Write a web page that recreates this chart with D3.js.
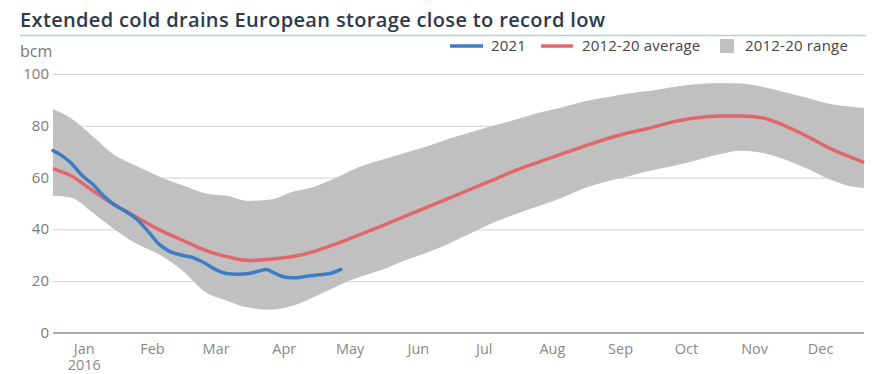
<!DOCTYPE html>
<html>
<head>
<meta charset="utf-8">
<script src="https://cdn.jsdelivr.net/npm/d3@7"></script>
<style>
  body { margin: 0; background: #fff; }
  svg { display: block; font-family: "Open Sans", "Noto Sans", sans-serif; }
</style>
</head>
<body>
<div id="chart"></div>
<script>
// band / average dates (2012-20), plotted on a 2016 calendar
const bandDates = ["2016-01-02", "2016-01-10", "2016-01-20", "2016-01-30", "2016-02-09", "2016-02-19",
    "2016-03-01", "2016-03-11", "2016-03-21", "2016-03-31", "2016-04-10", "2016-04-20", "2016-04-30",
    "2016-05-10", "2016-05-20", "2016-05-31", "2016-06-10", "2016-06-20", "2016-06-30", "2016-07-10",
    "2016-07-20", "2016-07-31", "2016-08-10", "2016-08-20", "2016-08-31", "2016-09-10", "2016-09-20",
    "2016-09-30", "2016-10-10", "2016-10-20", "2016-10-31", "2016-11-10", "2016-11-20", "2016-11-30",
    "2016-12-10", "2016-12-20", "2016-12-31", "2017-01-05"];
const rangeHigh = [86.5, 83, 76, 68.7, 64.5, 60.5, 57, 54, 53, 51, 51.5, 54.5, 56.5, 60, 64, 67, 69.5,
    72, 75, 77.5, 80, 82.5, 85, 87, 89.5, 91, 92.5, 93.5, 95, 96, 96.5, 96.3, 95, 93, 90.8, 88.5, 87.3, 87];
const rangeLow = [53, 52.3, 46.5, 40, 34.5, 30.5, 24, 16, 12.5, 9.8, 9, 10.5, 14, 18, 21.5, 24.5, 28,
    31, 34.5, 38.5, 42.5, 46, 49, 52, 56, 58.5, 60.5, 62.7, 64.5, 66.5, 69, 70.4, 69.5, 67, 63.5, 59.5, 56.5, 56];
const average = [63.5, 60.8, 55, 49.4, 44.8, 40, 35.8, 32, 29.5, 28, 28.5, 29.5, 31.5, 34.5, 37.8, 41.5,
    45, 48.5, 52, 55.5, 59, 63, 66, 69, 72.2, 75, 77.3, 79.2, 81.5, 83, 83.8, 83.8, 83, 80, 76, 71.5, 67.5, 65.8];

// 2021 storage
const dates2021 = ["2016-01-02", "2016-01-06", "2016-01-10", "2016-01-15", "2016-01-20", "2016-01-25",
    "2016-01-30", "2016-02-04", "2016-02-09", "2016-02-14", "2016-02-19", "2016-02-24", "2016-03-01",
    "2016-03-06", "2016-03-11", "2016-03-16", "2016-03-21", "2016-03-26", "2016-03-31", "2016-04-05",
    "2016-04-08", "2016-04-12", "2016-04-17", "2016-04-22", "2016-04-27", "2016-05-02", "2016-05-07", "2016-05-12"];
const values2021 = [70.4, 68.5, 65.8, 61, 57.5, 53, 49.5, 47, 44, 39.5, 34.5, 31.5, 30, 29, 27, 24.5,
    23, 22.7, 23, 24, 24.5, 23, 21.5, 21.3, 22, 22.5, 23, 24.6];

const yTicks = [0, 20, 40, 60, 80, 100];
const monthLabels = ["Jan", "Feb", "Mar", "Apr", "May", "Jun", "Jul", "Aug", "Sep", "Oct", "Nov", "Dec"];

const width = 878, height = 374;
const margin = {top: 74, right: 14, bottom: 41, left: 53};
const parse = d3.utcParse("%Y-%m-%d");

const x = d3.scaleUtc()
    .domain([parse("2016-01-02"), parse("2017-01-05")])
    .range([margin.left, width - margin.right]);
const y = d3.scaleLinear()
    .domain([0, 100])
    .range([height - margin.bottom, margin.top]);

const svg = d3.select("#chart").append("svg")
    .attr("width", width).attr("height", height);

// title + rule
svg.append("text")
    .attr("x", 20).attr("y", 27)
    .attr("fill", "#2c3a4b")
    .attr("font-size", 20).attr("font-weight", 600)
    .attr("letter-spacing", 0.35)
    .text("Extended cold drains European storage close to record low");
svg.append("line")
    .attr("x1", 20).attr("x2", 866).attr("y1", 35.5).attr("y2", 35.5)
    .attr("stroke", "#a6d9cc").attr("stroke-width", 1.5);

svg.append("text")
    .attr("x", 20).attr("y", 57)
    .attr("fill", "#777").attr("font-size", 16)
    .text("bcm");

// gridlines
svg.append("g").selectAll("line")
    .data(yTicks.filter(d => d > 0))
    .join("line")
    .attr("x1", margin.left).attr("x2", width - margin.right)
    .attr("y1", d => y(d) + 0.5).attr("y2", d => y(d) + 0.5)
    .attr("stroke", "#d2d2d2").attr("stroke-width", 1);

svg.append("g").selectAll("text")
    .data(yTicks)
    .join("text")
    .attr("x", 49).attr("y", d => y(d) + 5)
    .attr("text-anchor", "end")
    .attr("fill", "#7a7a7a").attr("font-size", 15)
    .text(d => d);

// range band
const band = bandDates.map((d, i) => ({date: parse(d), lo: rangeLow[i], hi: rangeHigh[i], avg: average[i]}));
svg.append("path")
    .datum(band)
    .attr("fill", "#c0c0c0")
    .attr("d", d3.area()
        .curve(d3.curveMonotoneX)
        .x(d => x(d.date))
        .y0(d => y(d.lo))
        .y1(d => y(d.hi)));

// zero line
svg.append("line")
    .attr("x1", margin.left).attr("x2", width - margin.right)
    .attr("y1", y(0)).attr("y2", y(0))
    .attr("stroke", "#aaa").attr("stroke-width", 2);

svg.append("path")
    .datum(band)
    .attr("fill", "none")
    .attr("stroke", "#e2676b").attr("stroke-width", 3.5)
    .attr("d", d3.line()
        .curve(d3.curveMonotoneX)
        .x(d => x(d.date))
        .y(d => y(d.avg)));

const series2021 = dates2021.map((d, i) => ({date: parse(d), v: values2021[i]}));
svg.append("path")
    .datum(series2021)
    .attr("fill", "none")
    .attr("stroke", "#3b7ec5").attr("stroke-width", 3.5)
    .attr("stroke-linecap", "round")
    .attr("d", d3.line()
        .curve(d3.curveMonotoneX)
        .x(d => x(d.date))
        .y(d => y(d.v)));

// month labels at mid-month, year under January
const xAxis = svg.append("g")
    .attr("transform", `translate(0,${y(0)})`)
    .call(d3.axisBottom(x)
        .tickValues(monthLabels.map((m, i) => new Date(Date.UTC(2016, i, 16))))
        .tickSize(0)
        .tickPadding(11)
        .tickFormat(d => monthLabels[d.getUTCMonth()]));
xAxis.select(".domain").remove();
xAxis.selectAll("text")
    .attr("fill", "#888").attr("font-size", 14.5)
    .attr("font-family", "\"Open Sans\", \"Noto Sans\", sans-serif");
xAxis.selectAll(".tick text")
    .filter(d => d.getUTCMonth() === 0)
    .append("tspan")
    .attr("x", 0).attr("dy", "1.05em")
    .text("2016");

// legend
const legend = svg.append("g").attr("font-size", 15).attr("fill", "#444").attr("letter-spacing", 0.2);
legend.append("line").attr("x1", 450).attr("x2", 483).attr("y1", 46).attr("y2", 46)
    .attr("stroke", "#3b7ec5").attr("stroke-width", 3.5);
legend.append("text").attr("x", 491).attr("y", 51).text("2021");
legend.append("line").attr("x1", 541).attr("x2", 573).attr("y1", 46).attr("y2", 46)
    .attr("stroke", "#e2676b").attr("stroke-width", 3.5);
legend.append("text").attr("x", 582).attr("y", 51).text("2012-20 average");
legend.append("rect").attr("x", 720).attr("y", 39).attr("width", 14).attr("height", 14)
    .attr("fill", "#c0c0c0");
legend.append("text").attr("x", 745).attr("y", 51).text("2012-20 range");
</script>
</body>
</html>
